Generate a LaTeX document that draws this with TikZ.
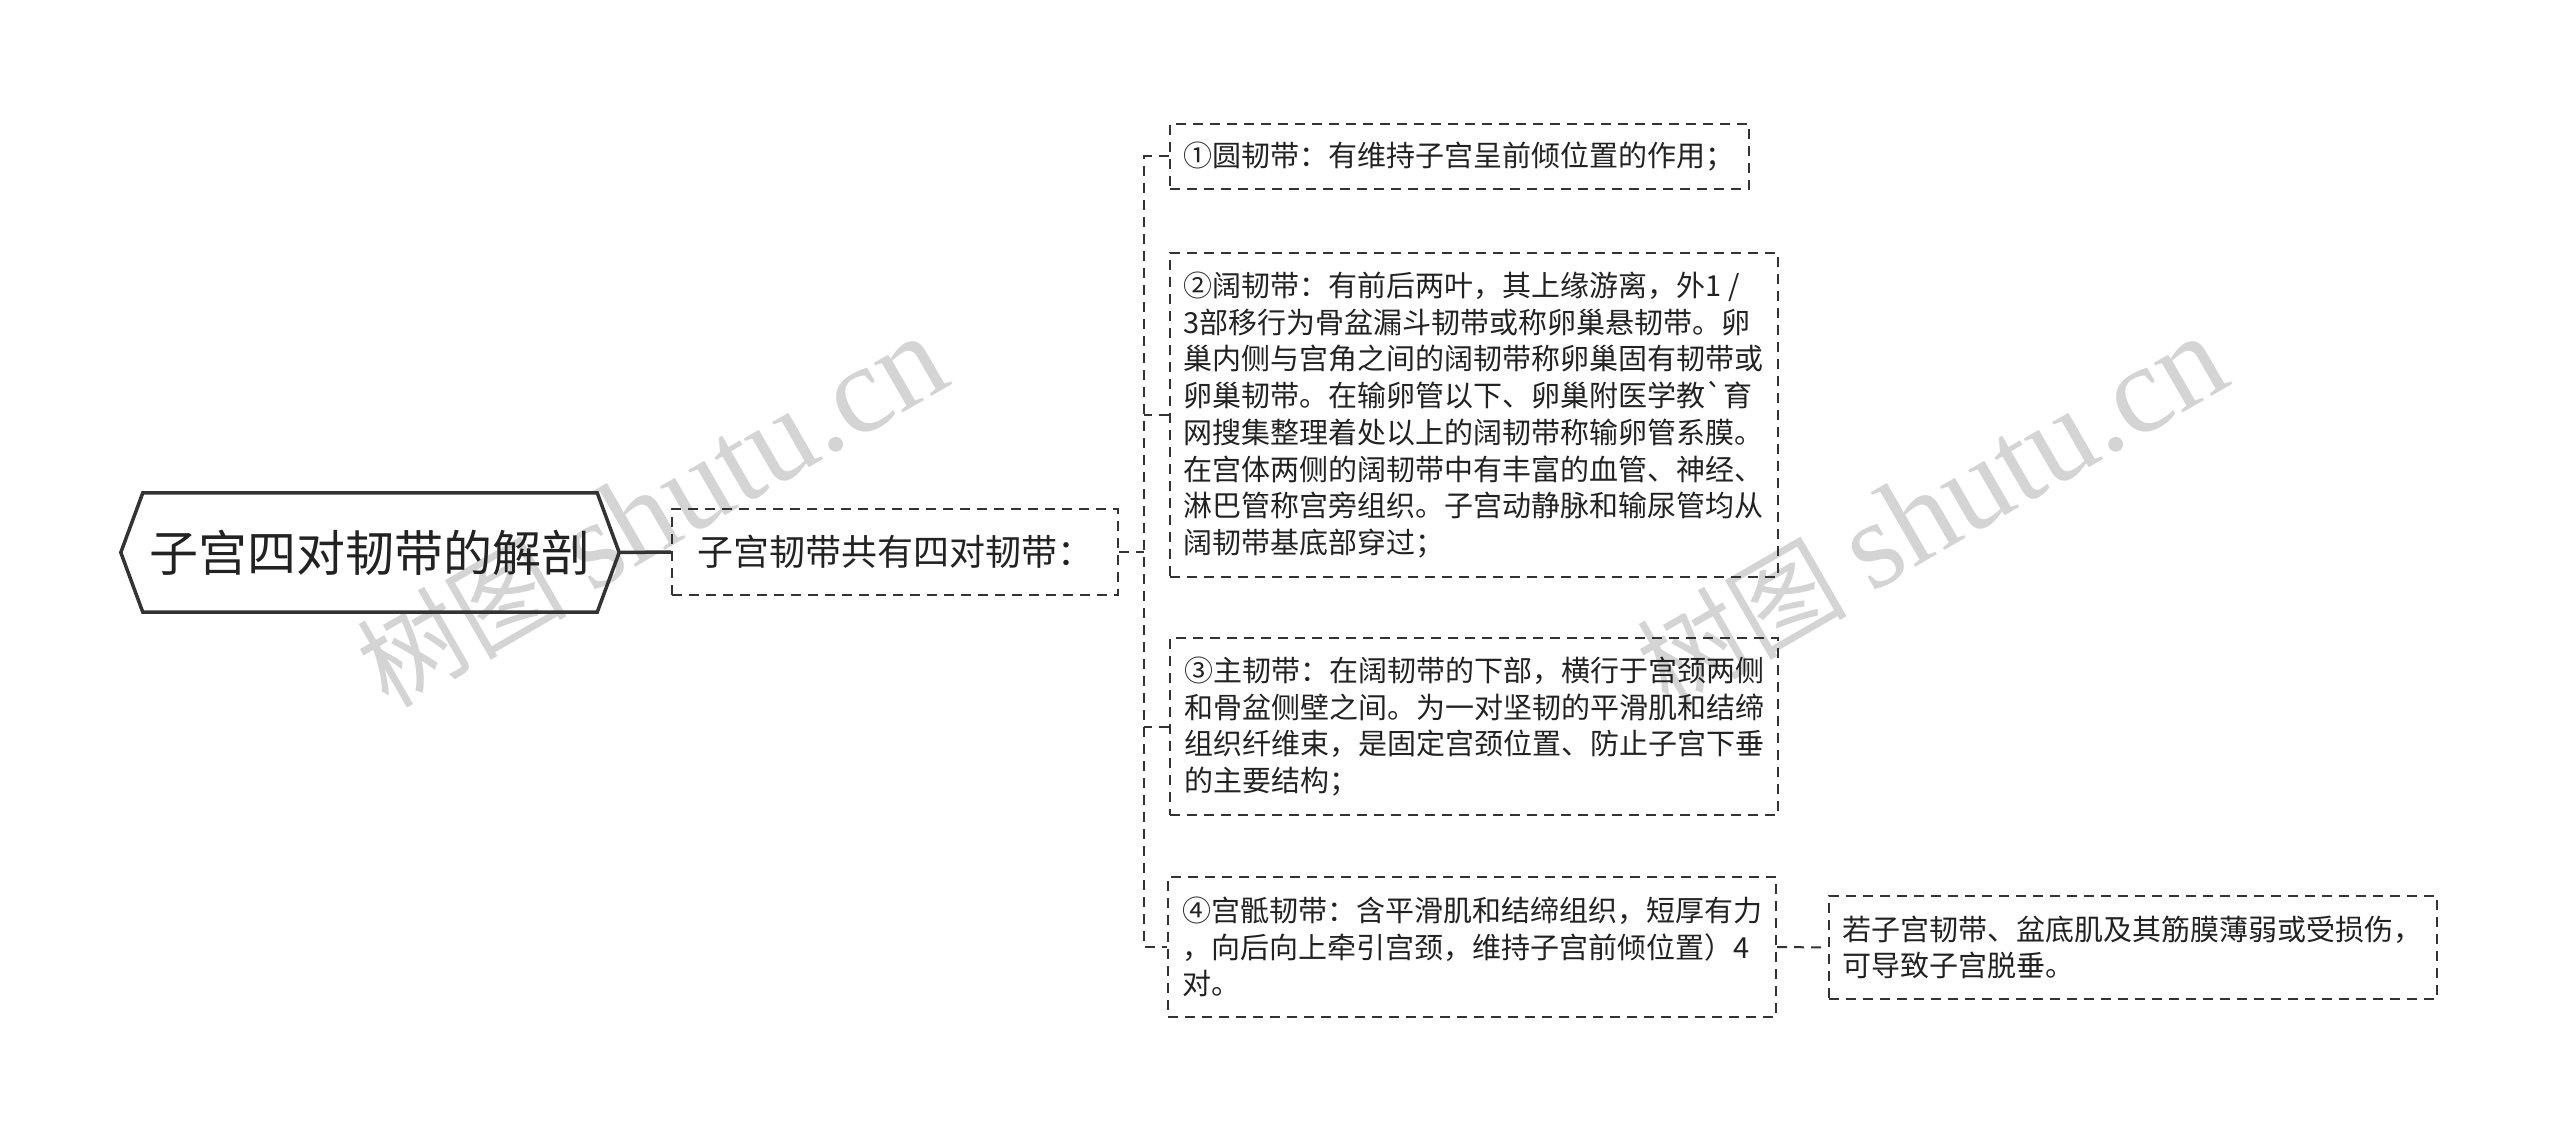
\documentclass[tikz,border=0pt]{standalone}
\usepackage{fontspec}
\setmainfont{Noto Sans CJK SC}
\newfontfamily\wmserif{Liberation Serif}
\definecolor{ink}{HTML}{333333}
\definecolor{txt}{HTML}{222222}
\definecolor{wm}{HTML}{D4D4D4}
\tikzset{
  box/.style={draw=ink, line width=2pt, dash pattern=on 10pt off 7pt,
    inner xsep=14pt, inner ysep=0pt, align=left, text=txt,
    font=\fontsize{29pt}{36.7pt}\selectfont},
  link/.style={draw=ink, line width=2pt, dash pattern=on 10pt off 7pt},
  rootnode/.style={inner sep=0pt, text=txt, font=\fontsize{49pt}{56pt}\selectfont,
    minimum width=454pt, minimum height=119pt},
  rootborder/.style={draw=ink, line width=3.5pt, line join=miter},
  rootline/.style={draw=ink, line width=3.5pt},
  watermark/.style={rotate=30, text=wm, inner sep=0pt}
}
\begin{document}
\begin{tikzpicture}[x=1pt,y=-1pt]
\useasboundingbox (0,0) rectangle (2560,1142);
% watermarks
\node[watermark] (wm1) at (652,512) {\fontsize{105pt}{105pt}\selectfont 树图 {\wmserif\fontsize{125pt}{125pt}\selectfont shutu.cn}};
\node[watermark] (wm2) at (1932,512) {\fontsize{105pt}{105pt}\selectfont 树图 {\wmserif\fontsize{125pt}{125pt}\selectfont shutu.cn}};
% root
\node[rootnode] (root) at (370,552.5) {子宫四对韧带的解剖};
\draw[rootborder] (root.north west) -- (root.north east) -- ([xshift=22pt]root.east)
  -- (root.south east) -- (root.south west) -- ([xshift=-22pt]root.west) -- cycle;
\coordinate (roottip) at ([xshift=22pt]root.east);
% second level
\node[box, align=center, font=\fontsize{36pt}{42pt}\selectfont,
  minimum width=446pt, minimum height=86pt] (sec) at (895,552) {子宫韧带共有四对韧带：};
% children
\node[box, minimum width=578pt, minimum height=65pt] (c1) at (1459,156.5)
  {①圆韧带：有维持子宫呈前倾位置的作用；};
\node[box, minimum width=607pt, minimum height=324pt] (c2) at (1473.5,415)
  {②阔韧带：有前后两叶，其上缘游离，外1 /\\
   3部移行为骨盆漏斗韧带或称卵巢悬韧带。卵\\
   巢内侧与宫角之间的阔韧带称卵巢固有韧带或\\
   卵巢韧带。在输卵管以下、卵巢附医学教\textasciigrave 育\\
   网搜集整理着处以上的阔韧带称输卵管系膜。\\
   在宫体两侧的阔韧带中有丰富的血管、神经、\\
   淋巴管称宫旁组织。子宫动静脉和输尿管均从\\
   阔韧带基底部穿过；};
\node[box, minimum width=608pt, minimum height=177pt] (c3) at (1474,726.5)
  {③主韧带：在阔韧带的下部，横行于宫颈两侧\\
   和骨盆侧壁之间。为一对坚韧的平滑肌和结缔\\
   组织纤维束，是固定宫颈位置、防止子宫下垂\\
   的主要结构；};
\node[box, minimum width=608pt, minimum height=140pt] (c4) at (1472,947)
  {④宫骶韧带：含平滑肌和结缔组织，短厚有力\\
   ，向后向上牵引宫颈，维持子宫前倾位置）4\\
   对。};
\node[box, minimum width=605pt, minimum height=103pt] (leaf) at (2132.5,947.5)
  {若子宫韧带、盆底肌及其筋膜薄弱或受损伤，\\
   可导致子宫脱垂。};
% connectors
\draw[rootline] (roottip) -- (sec.west);
\coordinate (trunk) at (1144,552);
\draw[link] (sec.east) -- (trunk);
\draw[link] (c1.west) -- (c1.west -| trunk) -- (c4.west -| trunk) -- (c4.west);
\draw[link] (c2.west) -- (c2.west -| trunk);
\draw[link] (c3.west) -- (c3.west -| trunk);
\draw[link] (c4.east) -- (leaf.west);
\end{tikzpicture}
\end{document}
